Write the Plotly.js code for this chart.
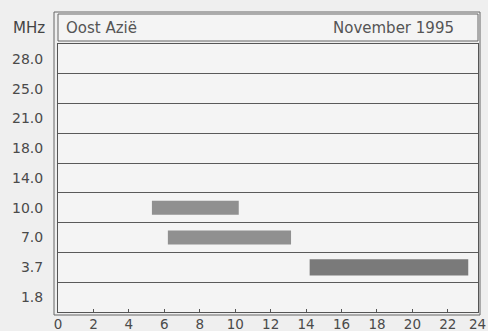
<!DOCTYPE html>
<html>
<head>
<meta charset="utf-8">
<script src="https://cdn.plot.ly/plotly-3.0.1.min.js"></script>
<style>html,body{margin:0;padding:0;background:#efefef;}#chart{width:488px;height:331px;}</style>
</head>
<body>
<div id="chart"></div>
<script>
// Frequency bands (MHz), bottom to top
const bands = ["1.8", "3.7", "7.0", "10.0", "14.0", "18.0", "21.0", "25.0", "28.0"];
// Open periods (UTC hours)
const openBands = ["10.0", "7.0", "3.7"];
const openStart = [5.3, 6.2, 14.2];
const openEnd = [10.2, 13.15, 23.15];
const xTicks = [0, 2, 4, 6, 8, 10, 12, 14, 16, 18, 20, 22, 24];
const regionLabel = "Oost Azië";
const periodLabel = "November 1995";

const fam = "DejaVu Sans, Liberation Sans, sans-serif";
const font = {family: fam, size: 14, color: "#4a4a4a"};
const xMax = 23.7;

const lightIdx = [0, 1];
const darkIdx = [2];
const traces = [
  {
    type: "bar", orientation: "h",
    y: lightIdx.map(i => openBands[i]),
    base: lightIdx.map(i => openStart[i]),
    x: lightIdx.map(i => openEnd[i] - openStart[i]),
    width: 0.47,
    marker: {color: "#909090", line: {width: 0}},
    hoverinfo: "skip"
  },
  {
    type: "bar", orientation: "h",
    y: darkIdx.map(i => openBands[i]),
    base: darkIdx.map(i => openStart[i]),
    x: darkIdx.map(i => openEnd[i] - openStart[i]),
    width: 0.55,
    marker: {color: "#7a7a7a", line: {width: 0}},
    hoverinfo: "skip"
  }
];

// pixel -> paper helpers (plot area 58..478 x 44..312)
const L = 58, R = 478, T = 44, B = 312;
const px = v => (v - L) / (R - L);
const py = v => (B - v) / (B - T);

const shownTicks = xTicks.filter(t => t <= xMax);
const lastTick = xTicks[xTicks.length - 1];

const layout = {
  width: 488, height: 331,
  margin: {l: L, r: 488 - R, t: T, b: 331 - B, pad: 0},
  paper_bgcolor: "#efefef",
  plot_bgcolor: "#f4f4f4",
  showlegend: false,
  barmode: "overlay",
  font: font,
  xaxis: {
    range: [0, xMax],
    tickvals: shownTicks,
    ticktext: shownTicks.map(String),
    ticks: "inside", ticklen: 3, tickcolor: "#555",
    showgrid: false, zeroline: false,
    showline: true, linecolor: "#555", linewidth: 1, mirror: true,
    tickfont: {family: fam, size: 13.5, color: "#4a4a4a"},
    ticklabelstandoff: 0,
    fixedrange: true
  },
  yaxis: {
    type: "category",
    categoryorder: "array", categoryarray: bands,
    range: [-0.5, bands.length - 0.5],
    tickson: "boundaries", ticks: "",
    showgrid: true, gridcolor: "#5a5a5a", gridwidth: 1,
    showline: true, linecolor: "#555", linewidth: 1, mirror: true,
    ticklabelstandoff: 11,
    tickfont: {family: fam, size: 14, color: "#4a4a4a"},
    fixedrange: true
  },
  shapes: [
    {type: "rect", xref: "paper", yref: "paper", x0: px(54), x1: px(480), y0: py(315), y1: py(12),
     line: {color: "#666", width: 1}, fillcolor: "rgba(0,0,0,0)"},
    {type: "rect", xref: "paper", yref: "paper", x0: px(58), x1: px(478), y0: py(41), y1: py(14),
     line: {color: "#666", width: 1}, fillcolor: "#f4f4f4"}
  ],
  annotations: [
    {text: "MHz", xref: "paper", yref: "paper", x: px(47), y: py(28), xanchor: "right", yanchor: "middle",
     showarrow: false, font: {family: fam, size: 15, color: "#444"}},
    {text: regionLabel, xref: "paper", yref: "paper", x: px(64), y: py(28), xanchor: "left", yanchor: "middle",
     showarrow: false, font: {family: fam, size: 15, color: "#555"}},
    {text: periodLabel, xref: "paper", yref: "paper", x: px(456), y: py(28), xanchor: "right", yanchor: "middle",
     showarrow: false, font: {family: fam, size: 15, color: "#555"}},
    // last hour label, sitting at the right edge just past the axis end
    {text: String(lastTick), xref: "paper", yref: "paper", x: px(488), y: 0, xanchor: "right", yanchor: "top",
     yshift: -2, showarrow: false, font: {family: fam, size: 13.5, color: "#4a4a4a"}}
  ]
};

Plotly.newPlot("chart", traces, layout, {displayModeBar: false, staticPlot: true});
</script>
</body>
</html>
